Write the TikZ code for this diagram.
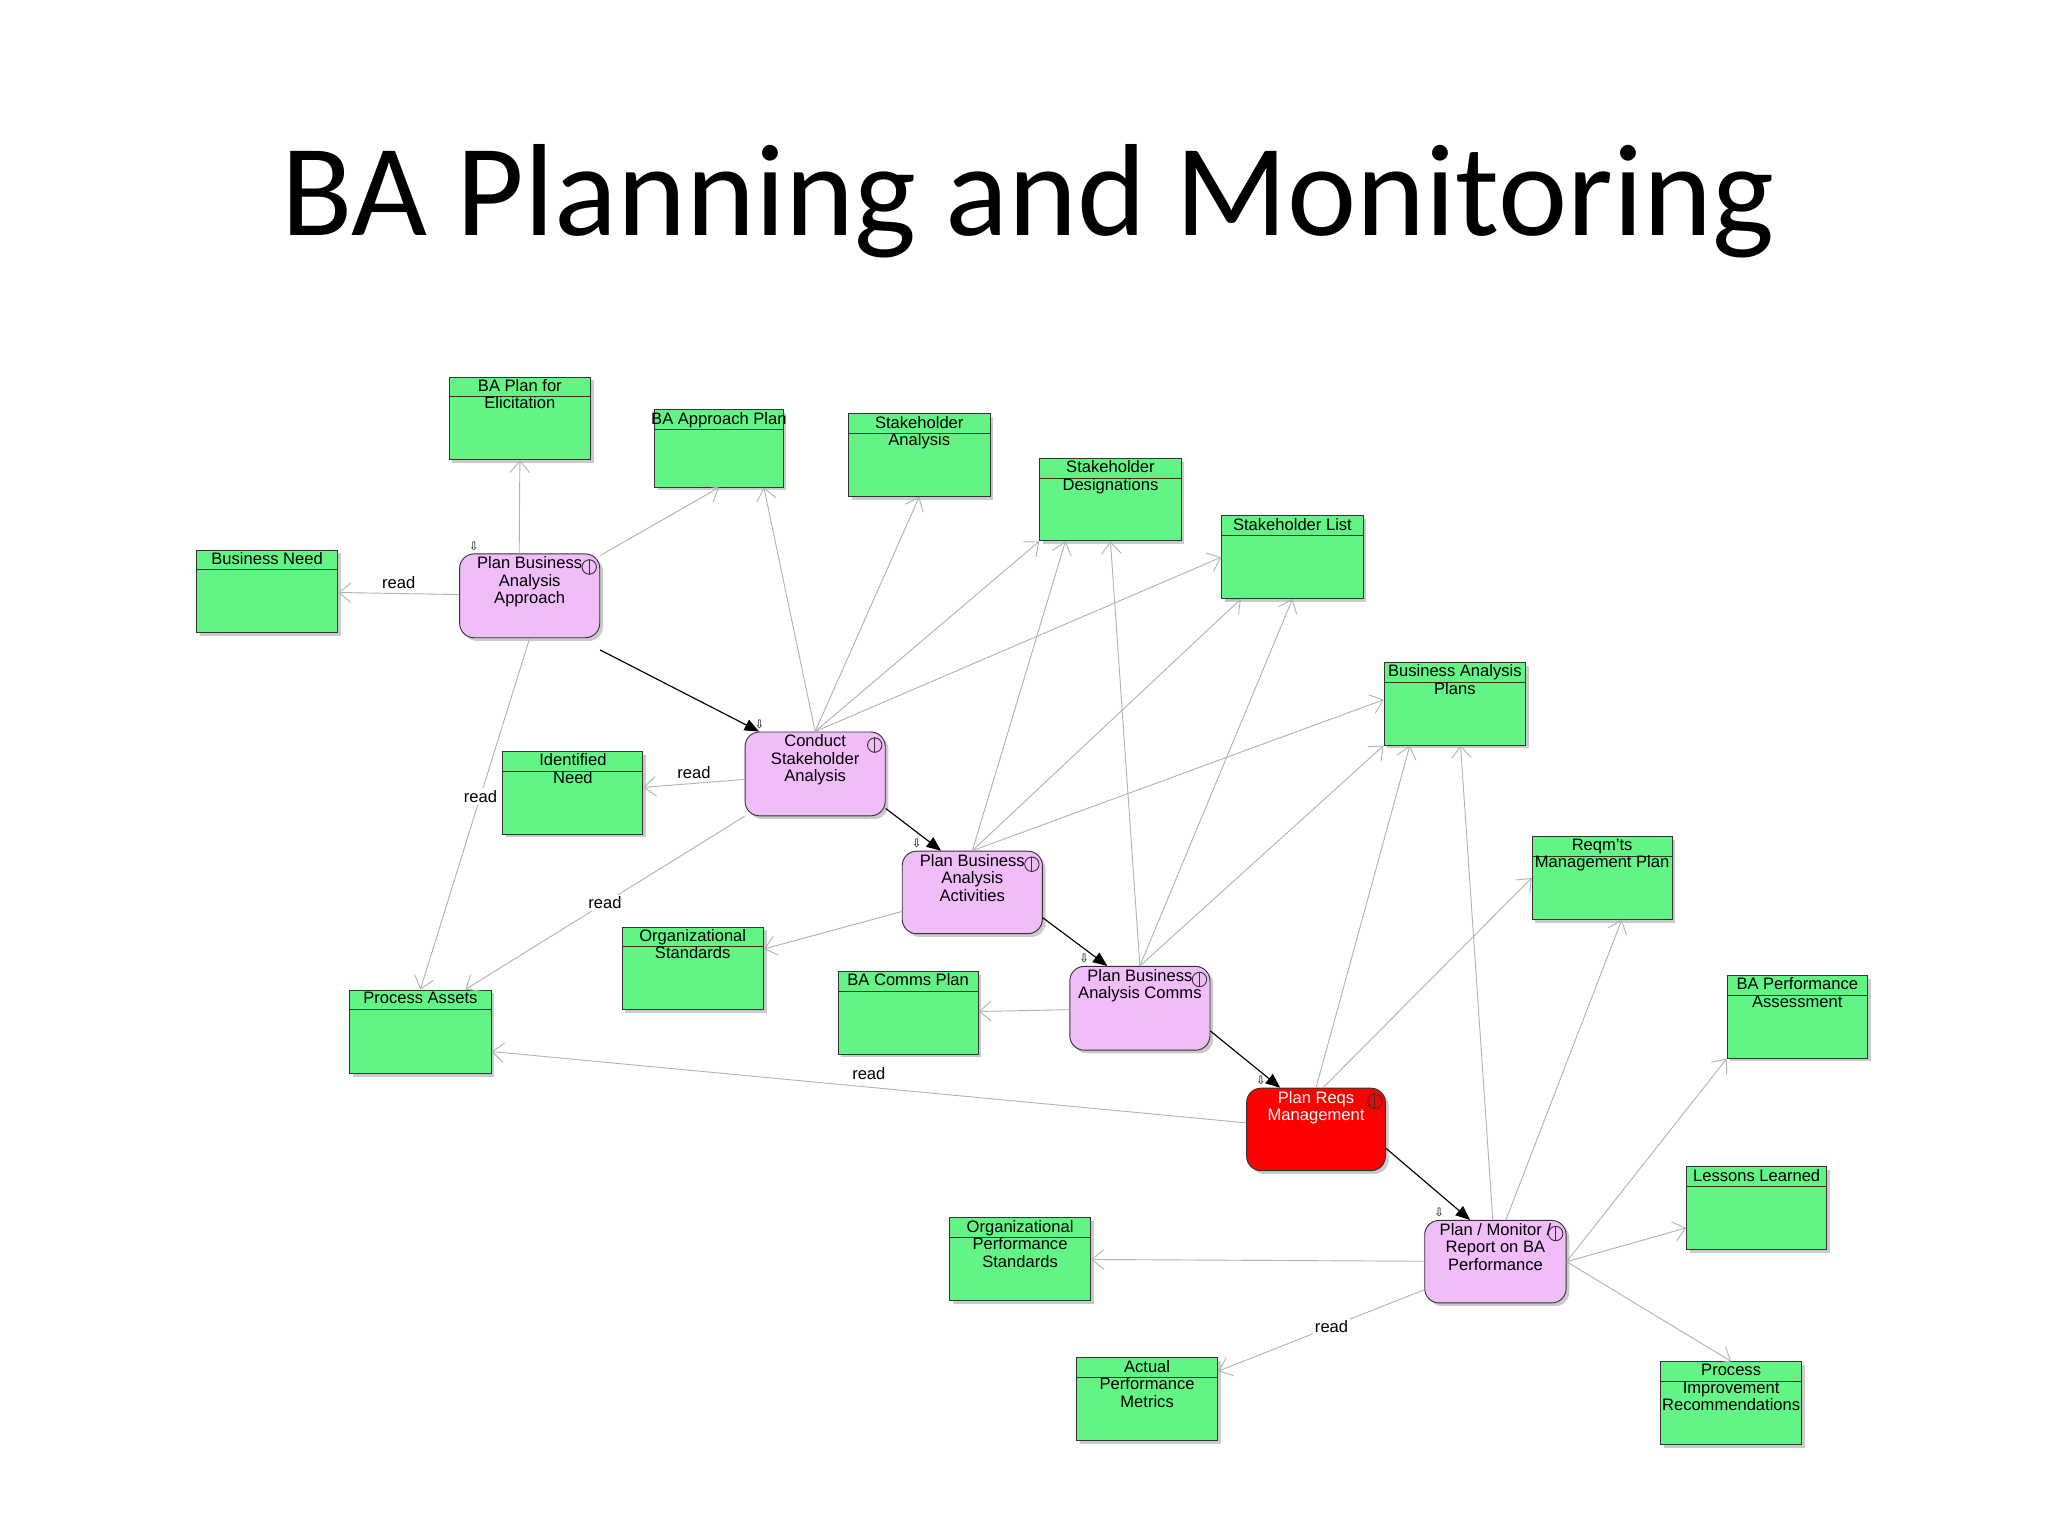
\documentclass[tikz,border=0pt]{standalone}
\usepackage{fontspec}
\setmainfont{Liberation Sans}
\newfontfamily\titlefont{Carlito}
\newfontfamily\symfont{DejaVu Sans}
\usetikzlibrary{fit,arrows.meta,shadows}
\definecolor{boxgreen}{HTML}{62F585}
\definecolor{boxpink}{HTML}{F0BDF9}
\tikzset{
  x=0.02cm,y=-0.02cm,
  gshadow/.style={drop shadow={shadow xshift=0.05cm,shadow yshift=-0.05cm,fill=black!35,opacity=0.6}},
  gbox/.style={draw=black!80,fill=boxgreen,inner sep=0pt,gshadow},
  pbox/.style={draw=black!80,fill=boxpink,rounded corners=0.22cm,inner sep=0pt,gshadow},
  rbox/.style={draw=black!80,fill=red,rounded corners=0.22cm,inner sep=0pt,gshadow},
  lbl/.style={font=\fontsize{7.2}{7.6}\selectfont,align=center,inner sep=1pt},
  gedge/.style={draw=black!30,line width=0.4pt,-{Straight Barb[length=0.18cm,width=0.3cm]}},
  bedge/.style={draw=black,line width=0.5pt,-{Triangle[length=0.22cm,width=0.18cm]}},
  rd/.style={font=\fontsize{7.2}{8}\selectfont,inner sep=1pt,fill=white},
}
\newcommand\gbox[6]{%
  \node[gbox,fit={(#2,#3) (#4,#5)}] (#1) {};
  \draw[black!80] (#2,#3+15) -- (#4,#3+15);
  \node[lbl,anchor=north] (#1-t) at (#1.north) {#6};}
\newcommand\pbox[7][pbox]{%
  \node[#1,fit={(#3,#4) (#5,#6)}] (#2) {};
  \node[lbl,anchor=north] (#2-t) at ([yshift=-0.01cm]#2.north) {#7};
  \node[draw=black!80,circle,inner sep=0pt,minimum size=0.22cm] (#2-c) at (#5-8,#4+10) {};
  \draw[black!80] (#2-c.north) -- (#2-c.south);
  \node[font=\symfont\fontsize{5}{5}\selectfont,inner sep=0pt] (#2-m) at (#3+11,#4-6) {⇩};}
\begin{document}
\begin{tikzpicture}
\useasboundingbox (0,0) rectangle (1564,1173);
\node[font=\titlefont\fontsize{57}{60}\selectfont,anchor=base] (title) at (785,180) {BA Planning and Monitoring};

\gbox{elic}{343}{288}{451}{351}{BA Plan for\\Elicitation}
\gbox{bap}{500}{313}{598}{372}{BA Approach Plan}
\gbox{sa}{648}{316}{756}{379}{Stakeholder\\Analysis}
\gbox{sd}{794}{350}{902}{413}{Stakeholder\\Designations}
\gbox{sl}{933}{394}{1041}{457}{Stakeholder List}
\gbox{bn}{150}{420}{258}{483}{Business Need}
\gbox{bap2}{1057}{506}{1165}{569}{Business Analysis\\Plans}
\gbox{idn}{384}{574}{491}{637}{Identified\\Need}
\gbox{rmp}{1170}{639}{1277}{702}{Reqm'ts\\Management Plan}
\gbox{os}{475}{708}{583}{771}{Organizational\\Standards}
\gbox{bcp}{640}{742}{747}{805}{BA Comms Plan}
\gbox{pa}{267}{756}{375}{820}{Process Assets}
\gbox{bpa}{1319}{745}{1426}{808}{BA Performance\\Assessment}
\gbox{ll}{1288}{891}{1395}{954}{Lessons Learned}
\gbox{ops}{725}{930}{833}{993}{Organizational\\Performance\\Standards}
\gbox{apm}{822}{1037}{930}{1100}{Actual\\Performance\\Metrics}
\gbox{pir}{1268}{1040}{1376}{1103}{Process\\Improvement\\Recommendations}

\pbox{pbaa}{351}{423}{458}{487}{Plan Business\\Analysis\\Approach}
\pbox{csa}{569}{559}{676}{623}{Conduct\\Stakeholder\\Analysis}
\pbox{pbact}{689}{650}{796}{713}{Plan Business\\Analysis\\Activities}
\pbox{pbac}{817}{738}{924}{802}{Plan Business\\Analysis Comms}
\pbox[rbox]{prm}{952}{831}{1058}{894}{\color{white}Plan Reqs\\\color{white}Management}
\pbox{pmr}{1088}{932}{1196}{995}{Plan / Monitor /\\Report on BA\\Performance}

% grey edges
\draw[gedge] (pbaa.north) ++(-8,0) coordinate (a1) (a1) -- (elic.south);
\draw[gedge] (pbaa) -- (bap.south);
\draw[gedge] (pbaa) -- node[rd,pos=0.5,above=1pt,fill=none] (r1) {read} (bn);
\draw[gedge] (pbaa.south) -- node[rd,pos=0.45] (r2) {read} (pa.north);
\draw[gedge] (csa.north) -- ([xshift=-0.3cm]bap.south east);
\draw[gedge] (csa.north) -- (sa.south);
\draw[gedge] (csa.north) -- (sd.south west);
\draw[gedge] (csa.north) -- (sl.west);
\draw[gedge] (csa) -- node[rd,above=1pt,fill=none] (r3) {read} (idn);
\draw[gedge] (csa.south west) -- node[rd,pos=0.5] (r4) {read} ([xshift=-0.4cm]pa.north east);
\draw[gedge] (pbact.north) -- ([xshift=0.4cm]sd.south west);
\draw[gedge] (pbact.north) -- ([xshift=0.3cm]sl.south west);
\draw[gedge] (pbact.north) -- ([yshift=0.7cm]bap2.south west);
\draw[gedge] (pbact) -- (os);
\draw[gedge] (pbac.north) -- (sd.south);
\draw[gedge] (pbac.north) -- (sl.south);
\draw[gedge] (pbac.north) -- (bap2.south west);
\draw[gedge] (pbac) -- (bcp);
\draw[gedge] (prm) -- node[rd,above=2pt,pos=0.5,fill=none] (r5) {read} ([yshift=-0.3cm]pa.east);
\draw[gedge] (prm.north) -- ([xshift=0.4cm]bap2.south west);
\draw[gedge] (prm.north east) ++(-48,0) coordinate (a2) (a2) -- (rmp.west);
\draw[gedge] (pmr.north) ++(-2,0) coordinate (a3) (a3) -- ([xshift=-1.0cm]bap2.south east);
\draw[gedge] (pmr.north) ++(8,0) coordinate (a4) (a4) -- ([xshift=0.3cm]rmp.south);
\draw[gedge] (pmr.east) -- (bpa.south west);
\draw[gedge] (pmr.east) -- (ll);
\draw[gedge] (pmr.east) -- (pir.north);
\draw[gedge] (pmr) -- (ops);
\draw[gedge] (pmr) -- node[rd,pos=0.45] (r6) {read} (apm);

% black flow
\draw[bedge] ([yshift=-0.18cm]pbaa.south east) -- ([xshift=0.22cm]csa.north west);
\draw[bedge] ([yshift=0.12cm]csa.south east) -- ([xshift=0.6cm]pbact.north west);
\draw[bedge] ([yshift=0.25cm]pbact.south east) -- ([xshift=0.58cm]pbac.north west);
\draw[bedge] ([yshift=0.3cm]pbac.south east) -- ([xshift=0.52cm]prm.north west);
\draw[bedge] ([yshift=0.35cm]prm.south east) -- ([xshift=0.7cm]pmr.north west);
\end{tikzpicture}
\end{document}
